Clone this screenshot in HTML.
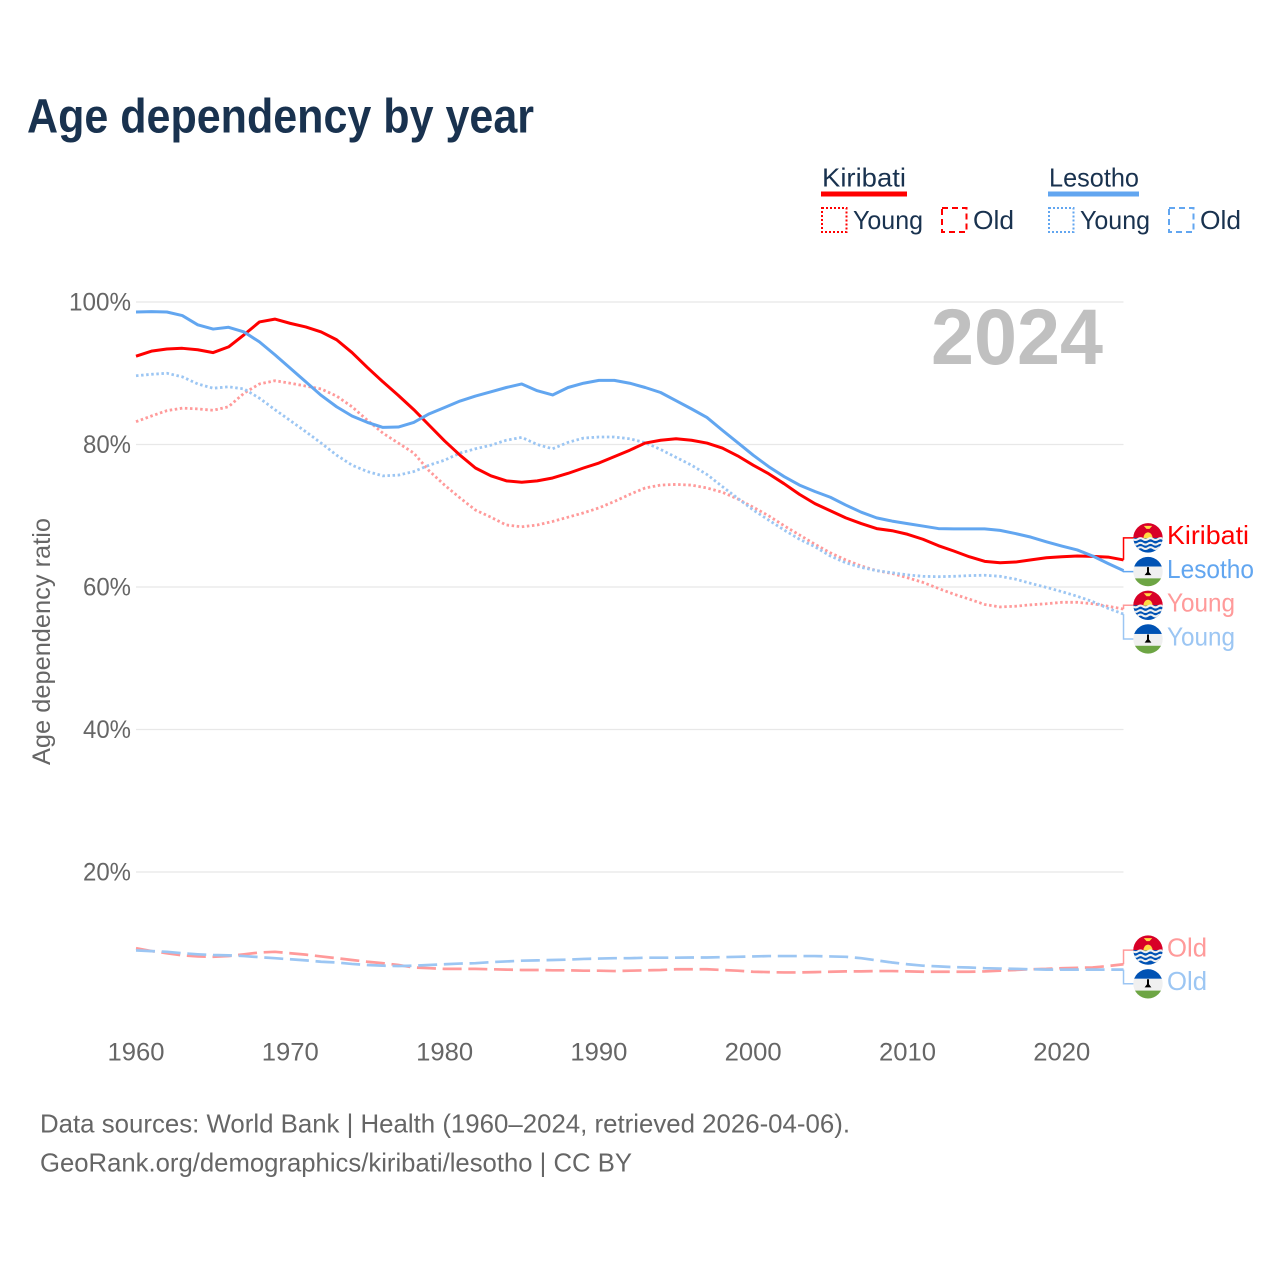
<!DOCTYPE html>
<html lang="en">
<head>
<meta charset="utf-8">
<title>Age dependency by year</title>
<style>
html,body{margin:0;padding:0;background:#fff;}
svg{display:block;}
text{font-family:"Liberation Sans","DejaVu Sans",sans-serif;}
</style>
</head>
<body>
<svg id="chart" xmlns="http://www.w3.org/2000/svg" width="1280" height="1280" viewBox="0 0 1280 1280">
  <defs>
    <clipPath id="flag-clip"><circle cx="0" cy="0" r="14.7"></circle></clipPath>
    <g id="flag-kiribati" clip-path="url(#flag-clip)">
      <rect x="-15" y="-15" width="30" height="15.5" fill="#d80027"></rect>
      <rect x="-15" y="0" width="30" height="15" fill="#0052b4"></rect>
      <path d="M-4.6 0.5A4.6 6 0 0 1 4.6 0.5Z" fill="#ffda44"></path>
      <path d="M-4.2 -12L4.2 -12L1.5 -9L-1.5 -9Z" fill="#ffda44"></path>
      <path d="M-15 1.2q2.5 1.8 5 0t5 0t5 0t5 0t5 0t5 0M-15 5.8q2.5 1.8 5 0t5 0t5 0t5 0t5 0t5 0M-15 10.2q2.5 1.8 5 0t5 0t5 0t5 0t5 0t5 0" fill="none" stroke="#f0f0f0" stroke-width="2.1"></path>
    </g>
    <g id="flag-lesotho" clip-path="url(#flag-clip)">
      <rect x="-15" y="-15" width="30" height="10" fill="#0052b4"></rect>
      <rect x="-15" y="-5" width="30" height="12" fill="#f0f0f0"></rect>
      <rect x="-15" y="6.8" width="30" height="8.2" fill="#6da544"></rect>
      <path d="M-1 -4.5H1V0.5L3.4 3.6H-3.4L-1 0.5Z" fill="#000"></path>
    </g>
  </defs>

  <text x="27" y="132.7" font-size="48" font-weight="700" fill="#19324f" textLength="507" lengthAdjust="spacingAndGlyphs">Age dependency by year</text>

  <g>
    <text x="822" y="186.5" font-size="26" fill="#19324f" textLength="84" lengthAdjust="spacingAndGlyphs">Kiribati</text>
    <rect x="821" y="191.5" width="86" height="5" fill="#ff0000"></rect>
    <rect x="822" y="208" width="24.5" height="24" fill="none" stroke="#ff0000" stroke-width="2" stroke-dasharray="2 2"></rect>
    <text x="853" y="229" font-size="26" fill="#19324f" textLength="70" lengthAdjust="spacingAndGlyphs">Young</text>
    <rect x="942" y="208" width="24.5" height="24" fill="none" stroke="#ff0000" stroke-width="2" stroke-dasharray="6 4"></rect>
    <text x="973" y="229" font-size="26" fill="#19324f" textLength="41" lengthAdjust="spacingAndGlyphs">Old</text>
    <text x="1049" y="186.5" font-size="26" fill="#19324f" textLength="90" lengthAdjust="spacingAndGlyphs">Lesotho</text>
    <rect x="1048" y="191.5" width="91" height="5" fill="#62a6f0"></rect>
    <rect x="1049" y="208" width="24.5" height="24" fill="none" stroke="#62a6f0" stroke-width="2" stroke-dasharray="2 2"></rect>
    <text x="1080" y="229" font-size="26" fill="#19324f" textLength="70" lengthAdjust="spacingAndGlyphs">Young</text>
    <rect x="1169" y="208" width="24.5" height="24" fill="none" stroke="#62a6f0" stroke-width="2" stroke-dasharray="6 4"></rect>
    <text x="1200" y="229" font-size="26" fill="#19324f" textLength="41" lengthAdjust="spacingAndGlyphs">Old</text>
  </g>

  <g id="grid"></g>
  <g id="y-ticks"></g>
  <g id="x-ticks"></g>

  <text transform="translate(50,765) rotate(-90)" x="0" y="0" font-size="25" fill="#666666" textLength="247" lengthAdjust="spacingAndGlyphs">Age dependency ratio</text>
  <text x="931" y="364" font-size="79" font-weight="700" fill="#c0c0c0" textLength="172" lengthAdjust="spacingAndGlyphs">2024</text>

  <g id="series"></g>
  <g id="end-labels"></g>

  <text x="40" y="1132.5" font-size="26" fill="#666666" textLength="810" lengthAdjust="spacingAndGlyphs">Data sources: World Bank | Health (1960–2024, retrieved 2026-04-06).</text>
  <text x="40" y="1171.5" font-size="26" fill="#666666" textLength="592" lengthAdjust="spacingAndGlyphs">GeoRank.org/demographics/kiribati/lesotho | CC BY</text>
</svg>

<script>
const startYear = 1960;
const yTickValues = [20, 40, 60, 80, 100];
const xTickYears = [1960, 1970, 1980, 1990, 2000, 2010, 2020];

const kiribatiTotal = [92.4,93.1,93.4,93.5,93.3,92.9,93.7,95.4,97.2,97.6,97.0,96.5,95.8,94.7,92.9,90.8,88.8,86.9,84.9,82.7,80.5,78.5,76.7,75.6,74.9,74.7,74.9,75.3,75.95,76.7,77.4,78.3,79.2,80.2,80.6,80.8,80.6,80.2,79.5,78.4,77.1,75.9,74.5,73.0,71.7,70.7,69.7,68.9,68.2,67.9,67.4,66.7,65.8,65.05,64.25,63.6,63.4,63.5,63.8,64.1,64.25,64.35,64.3,64.2,63.8];
const lesothoTotal = [98.6,98.65,98.6,98.1,96.8,96.2,96.45,95.8,94.4,92.6,90.7,88.8,86.9,85.3,84.0,83.1,82.4,82.45,83.1,84.3,85.2,86.1,86.8,87.4,88.0,88.5,87.55,86.95,88.0,88.6,89.0,89.0,88.6,88.0,87.3,86.15,85.0,83.8,82.0,80.25,78.5,76.9,75.5,74.3,73.4,72.6,71.5,70.5,69.7,69.25,68.9,68.55,68.2,68.15,68.15,68.15,67.95,67.5,67.0,66.35,65.75,65.2,64.35,63.3,62.3];
const kiribatiYoung = [83.2,84.0,84.75,85.1,85.0,84.8,85.3,87.2,88.5,88.95,88.6,88.2,87.8,86.8,85.3,83.4,81.6,80.2,78.8,76.3,74.3,72.5,70.8,69.8,68.7,68.45,68.7,69.2,69.8,70.4,71.1,72.0,73.0,73.9,74.3,74.4,74.3,73.9,73.3,72.35,71.2,70.0,68.6,67.3,66.0,64.8,63.8,62.95,62.3,61.9,61.3,60.65,59.8,59.0,58.3,57.55,57.2,57.3,57.5,57.65,57.85,57.85,57.65,57.3,56.9];
const lesothoYoung = [89.65,89.85,90.0,89.5,88.5,87.9,88.1,87.8,86.5,84.9,83.35,81.8,80.2,78.5,77.1,76.2,75.6,75.7,76.2,77.1,77.8,78.8,79.4,79.9,80.6,81.0,80.0,79.4,80.3,80.9,81.05,81.05,80.8,80.25,79.3,78.2,77.1,75.8,74.1,72.45,70.8,69.4,68.0,66.7,65.65,64.35,63.4,62.75,62.3,62.0,61.7,61.5,61.45,61.5,61.6,61.65,61.5,61.1,60.5,59.95,59.35,58.7,57.95,57.0,56.2];
const kiribatiOld = [9.3,8.9,8.6,8.3,8.15,8.1,8.2,8.45,8.7,8.8,8.6,8.4,8.15,7.9,7.65,7.4,7.2,6.95,6.6,6.5,6.4,6.4,6.4,6.35,6.3,6.25,6.25,6.2,6.2,6.15,6.15,6.1,6.15,6.2,6.25,6.35,6.35,6.35,6.25,6.15,6.0,5.95,5.9,5.9,5.95,6.0,6.05,6.05,6.1,6.1,6.05,6.0,6.0,6.0,6.0,6.05,6.15,6.25,6.35,6.4,6.5,6.55,6.6,6.8,7.05];
const lesothoOld = [9.0,8.9,8.8,8.6,8.45,8.35,8.3,8.2,8.05,7.9,7.75,7.6,7.4,7.3,7.1,6.95,6.85,6.8,6.85,6.95,7.05,7.15,7.2,7.35,7.45,7.55,7.6,7.65,7.7,7.8,7.85,7.9,7.9,7.97,7.97,7.97,8.0,8.0,8.05,8.1,8.15,8.2,8.2,8.2,8.2,8.15,8.1,7.9,7.6,7.3,7.05,6.85,6.75,6.65,6.6,6.5,6.45,6.4,6.35,6.3,6.3,6.3,6.3,6.3,6.3];

const seriesNames = ['kiribati-young','lesotho-young','kiribati-old','lesotho-old','kiribati-total','lesotho-total'];
const endLabelTexts = ['Young','Young','Old','Old','Kiribati','Lesotho'];

const SVGNS = 'http://www.w3.org/2000/svg';
const xScale = function (year) { return 136 + (year - 1960) * 15.43; };
const yScale = function (value) { return 1014.5 - value * 7.125; };

const seriesValues = [kiribatiYoung, lesothoYoung, kiribatiOld, lesothoOld, kiribatiTotal, lesothoTotal];
const seriesStroke = ['#ff9a9a','#9cc6f3','#ff9a9a','#9cc6f3','#ff0000','#62a6f0'];
const seriesDash = ['2.5 2.6','2.5 2.6','19 6.7','19 6.7','none','none'];
const seriesWidth = [2.8,2.8,2.7,2.7,3,3];
const labelFlags = ['#flag-kiribati','#flag-lesotho','#flag-kiribati','#flag-lesotho','#flag-kiribati','#flag-lesotho'];
const labelWidths = [68,68,40,40,82,87];
const leaderStroke = ['#ff9a9a','#9cc6f3','#ff9a9a','#9cc6f3','#ff0000','#62a6f0'];

const gridGroup = document.getElementById('grid');
const yTickGroup = document.getElementById('y-ticks');
const xTickGroup = document.getElementById('x-ticks');
const seriesGroup = document.getElementById('series');
const labelGroup = document.getElementById('end-labels');

yTickValues.forEach(function (v) {
  const line = document.createElementNS(SVGNS, 'line');
  
  
  line.setAttribute('x1', xScale(startYear));
  line.setAttribute('x2', xScale(2024));
  line.setAttribute('y1', yScale(v));
  line.setAttribute('y2', yScale(v));
  line.setAttribute('stroke', '#e8e8e8');
  line.setAttribute('stroke-width', '1.3');
  gridGroup.appendChild(line);

  const label = document.createElementNS(SVGNS, 'text');
  
  
  label.setAttribute('x', 131);
  label.setAttribute('y', yScale(v) + 8.5);
  label.setAttribute('text-anchor', 'end');
  label.setAttribute('font-size', '25');
  label.setAttribute('fill', '#666666');
  label.setAttribute('textLength', v === 100 ? 62 : 48);
  label.setAttribute('lengthAdjust', 'spacingAndGlyphs');
  label.textContent = v + '%';
  yTickGroup.appendChild(label);
});

xTickYears.forEach(function (year) {
  const label = document.createElementNS(SVGNS, 'text');
  
  
  label.setAttribute('x', xScale(year));
  label.setAttribute('y', 1060.5);
  label.setAttribute('text-anchor', 'middle');
  label.setAttribute('font-size', '25');
  label.setAttribute('fill', '#666666');
  label.setAttribute('textLength', 57);
  label.setAttribute('lengthAdjust', 'spacingAndGlyphs');
  label.textContent = year;
  xTickGroup.appendChild(label);
});

seriesValues.forEach(function (vals, i) {
  const line = document.createElementNS(SVGNS, 'polyline');
  
  
  line.setAttribute('points', vals.map(function (v, k) {
    return xScale(startYear + k).toFixed(2) + ',' + yScale(v).toFixed(2);
  }).join(' '));
  line.setAttribute('fill', 'none');
  line.setAttribute('stroke', seriesStroke[i]);
  line.setAttribute('stroke-width', seriesWidth[i]);
  line.setAttribute('stroke-linejoin', 'round');
  if (seriesDash[i] !== 'none') line.setAttribute('stroke-dasharray', seriesDash[i]);
  seriesGroup.appendChild(line);
});

/* end labels: sorted by final value, overlapping ones pushed apart around their mean */
const spacing = 33.7;
const order = seriesValues.map(function (vals, i) {
  return { index: i, end: yScale(vals[vals.length - 1]) };
}).sort(function (a, b) { return a.end - b.end; });
let clusters = order.map(function (o) { return { items: [o], center: o.end }; });
let merged = true;
while (merged) {
  merged = false;
  for (let c = 0; c < clusters.length - 1; c++) {
    const a = clusters[c];
    const b = clusters[c + 1];
    const aBottom = a.center + (a.items.length - 1) * spacing / 2;
    const bTop = b.center - (b.items.length - 1) * spacing / 2;
    if (bTop - aBottom < spacing) {
      const items = a.items.concat(b.items);
      const center = items.reduce(function (s, o) { return s + o.end; }, 0) / items.length;
      clusters.splice(c, 2, { items: items, center: center });
      merged = true;
      break;
    }
  }
}
clusters.forEach(function (cluster) {
  cluster.items.forEach(function (item, k) {
    const i = item.index;
    const cy = cluster.center + (k - (cluster.items.length - 1) / 2) * spacing;
    const xEnd = xScale(2024);

    const leader = document.createElementNS(SVGNS, 'polyline');
    
    
    leader.setAttribute('points', xEnd + ',' + item.end + ' ' + xEnd + ',' + cy + ' 1134,' + cy);
    leader.setAttribute('fill', 'none');
    leader.setAttribute('stroke', leaderStroke[i]);
    leader.setAttribute('stroke-width', '1.5');
    labelGroup.appendChild(leader);

    const flag = document.createElementNS(SVGNS, 'use');
    
    
    flag.setAttribute('href', labelFlags[i]);
    flag.setAttribute('transform', 'translate(1148,' + cy + ')');
    labelGroup.appendChild(flag);

    const text = document.createElementNS(SVGNS, 'text');
    
    
    text.setAttribute('x', 1167);
    text.setAttribute('y', cy + 6.3);
    text.setAttribute('font-size', '26');
    text.setAttribute('fill', seriesStroke[i]);
    text.setAttribute('textLength', labelWidths[i]);
    text.setAttribute('lengthAdjust', 'spacingAndGlyphs');
    text.textContent = endLabelTexts[i];
    labelGroup.appendChild(text);
  });
});
</script>
</body>
</html>
